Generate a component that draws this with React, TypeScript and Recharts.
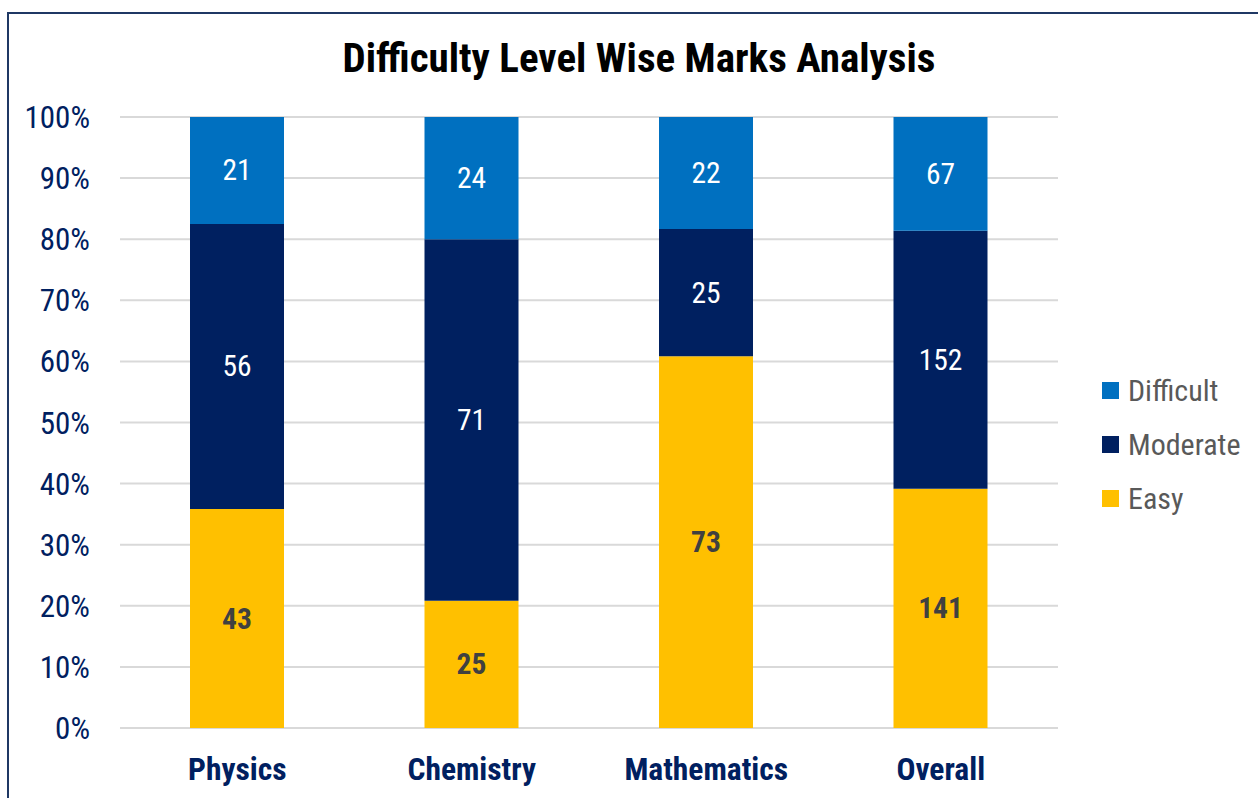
import React from "react";
import { BarChart, Bar, XAxis, YAxis, CartesianGrid, LabelList } from "recharts";

const categories = ["Physics", "Chemistry", "Mathematics", "Overall"];
const easy = [43, 25, 73, 141];
const moderate = [56, 71, 25, 152];
const difficult = [21, 24, 22, 67];
const yTicks = [0, 0.1, 0.2, 0.3, 0.4, 0.5, 0.6, 0.7, 0.8, 0.9, 1];

const FONT = '"Liberation Sans Narrow", "Roboto Condensed", "DejaVu Sans Condensed", Roboto, sans-serif';

const C_EASY = "#FFC000";
const C_MOD = "#002060";
const C_DIFF = "#0070C0";

const data = categories.map((c, i) => ({
  name: c,
  Easy: easy[i],
  Moderate: moderate[i],
  Difficult: difficult[i],
}));

const makeLabel = (arr: number[], color: string, weight: string) => (props: any) => {
  const { x, y, width, height, index } = props;
  return (
    <text
      x={Number(x) + Number(width) / 2}
      y={Number(y) + Number(height) / 2}
      textAnchor="middle"
      dominantBaseline="central"
      fill={color}
      fontFamily={FONT}
      fontSize={29.5}
      fontWeight={weight}
    >
      {arr[index]}
    </text>
  );
};

const legendItems = [
  { label: "Difficult", color: C_DIFF },
  { label: "Moderate", color: C_MOD },
  { label: "Easy", color: C_EASY },
];

export default function App() {
  return (
    <div style={{ position: "absolute", left: 0, top: 0, width: 1258, height: 798, background: "#fff", overflow: "hidden" }}>
      <div
        style={{
          position: "absolute",
          left: 7,
          top: 12,
          width: 1300,
          height: 850,
          border: "2px solid #1F3864",
          boxSizing: "border-box",
        }}
      />
      <div
        style={{
          position: "absolute",
          left: 0,
          top: 32,
          width: 1278,
          textAlign: "center",
          fontFamily: FONT,
          fontWeight: "bold",
          fontSize: 41,
          color: "#000",
          lineHeight: "52px",
        }}
      >
        Difficulty Level Wise Marks Analysis
      </div>
      <div style={{ position: "absolute", left: 0, top: 0 }}>
        <BarChart
          width={1258}
          height={798}
          data={data}
          stackOffset="expand"
          margin={{ top: 117, right: 200, bottom: 0, left: 0 }}
        >
          <CartesianGrid vertical={false} stroke="#D9D9D9" strokeWidth={2} />
          <XAxis
            dataKey="name"
            axisLine={false}
            tickLine={false}
            height={70}
            tickMargin={24}
            tick={{ fill: "#002060", fontFamily: FONT, fontSize: 31.5, fontWeight: "bold" }}
          />
          <YAxis
            type="number"
            domain={[0, 1]}
            ticks={yTicks}
            width={120}
            axisLine={false}
            tickLine={false}
            tickMargin={24}
            interval={0}
            tickFormatter={(v: number) => `${Math.round(v * 100)}%`}
            tick={{ fill: "#002060", fontFamily: FONT, fontSize: 31 }}
          />
          <Bar dataKey="Easy" stackId="a" fill={C_EASY} barSize={94} isAnimationActive={false}>
            <LabelList dataKey="Easy" content={makeLabel(easy, "#404040", "bold")} />
          </Bar>
          <Bar dataKey="Moderate" stackId="a" fill={C_MOD} barSize={94} isAnimationActive={false}>
            <LabelList dataKey="Moderate" content={makeLabel(moderate, "#FFFFFF", "normal")} />
          </Bar>
          <Bar dataKey="Difficult" stackId="a" fill={C_DIFF} barSize={94} isAnimationActive={false}>
            <LabelList dataKey="Difficult" content={makeLabel(difficult, "#FFFFFF", "normal")} />
          </Bar>
        </BarChart>
      </div>
      <div style={{ position: "absolute", left: 1102, top: 363, fontFamily: FONT }}>
        {legendItems.map((it) => (
          <div key={it.label} style={{ display: "flex", alignItems: "center", height: 54 }}>
            <div style={{ width: 17, height: 17, background: it.color, marginRight: 9 }} />
            <span style={{ fontSize: 30, color: "#595959" }}>{it.label}</span>
          </div>
        ))}
      </div>
    </div>
  );
}
